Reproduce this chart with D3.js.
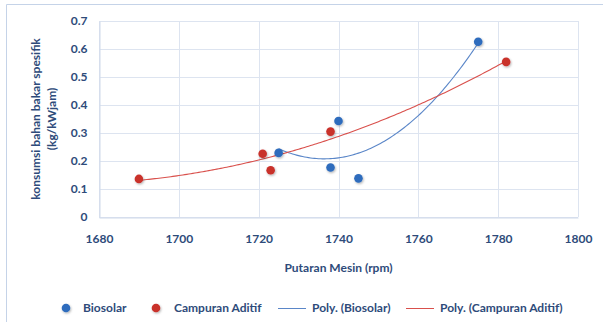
<!DOCTYPE html>
<html>
<head>
<meta charset="utf-8">
<script src="https://cdn.jsdelivr.net/npm/d3@7"></script>
<style>
  html, body { margin: 0; padding: 0; background: #fff; }
  svg { display: block; }
  text { font-family: Lato, "Open Sans", sans-serif; font-weight: bold; fill: #2e4b7a; }
</style>
</head>
<body>
<svg id="chart" width="603" height="322"></svg>
<script>
// Specific fuel consumption vs engine speed
const biosolarRpm = [1725, 1738, 1740, 1745, 1775];
const biosolarSfc = [0.229, 0.177, 0.343, 0.138, 0.626];
const aditifRpm = [1690, 1721, 1723, 1738, 1782];
const aditifSfc = [0.136, 0.226, 0.167, 0.305, 0.554];
const xTicks = [1680, 1700, 1720, 1740, 1760, 1780, 1800];
const yTicks = [0, 0.1, 0.2, 0.3, 0.4, 0.5, 0.6, 0.7];

const svg = d3.select("#chart");
const x = d3.scaleLinear().domain([1680, 1800]).range([99, 578]);
const y = d3.scaleLinear().domain([0, 0.7]).range([217, 21]);

// chart frame
svg.append("path").attr("d", "M6.5,322 V4.5 H603")
  .attr("fill", "none").attr("stroke", "#c5d3e8").attr("stroke-width", 1);

// gridlines
svg.append("g").selectAll("line").data(yTicks).join("line")
  .attr("x1", x(1680)).attr("x2", x(1800))
  .attr("y1", d => Math.round(y(d)) + 0.5).attr("y2", d => Math.round(y(d)) + 0.5)
  .attr("stroke", "#dde4f0");
svg.append("g").selectAll("line").data(xTicks).join("line")
  .attr("y1", y(0)).attr("y2", y(0.7))
  .attr("x1", d => Math.round(x(d)) + 0.5).attr("x2", d => Math.round(x(d)) + 0.5)
  .attr("stroke", "#dde4f0");

// axes
const xAxis = svg.append("g").attr("transform", `translate(0,${Math.round(y(0)) + 0.5})`)
  .call(d3.axisBottom(x).tickValues(xTicks).tickSize(0).tickPadding(17).tickFormat(d3.format("d")));
const yAxis = svg.append("g").attr("transform", `translate(${Math.round(x(1680)) + 0.5},0)`)
  .call(d3.axisLeft(y).tickValues(yTicks).tickSize(0).tickPadding(12).tickFormat(d => d === 0 ? "0" : d3.format(".1f")(d)));
[xAxis, yAxis].forEach(a => {
  a.select(".domain").attr("stroke", "#cfd9ea");
  a.selectAll("text").attr("font-size", 12).attr("fill", "#2e4b7a")
    .attr("font-family", "Lato, sans-serif").attr("font-weight", "bold");
});

// least-squares quadratic trend
function polyFit(xs, ys) {
  const n = xs.length, x0 = d3.mean(xs);
  const u = xs.map(v => v - x0);
  const S = k => d3.sum(u, v => Math.pow(v, k));
  const T = k => d3.sum(u, (v, i) => Math.pow(v, k) * ys[i]);
  const A = [[n, S(1), S(2)], [S(1), S(2), S(3)], [S(2), S(3), S(4)]];
  const b = [T(0), T(1), T(2)];
  for (let i = 0; i < 3; i++) {
    for (let j = i + 1; j < 3; j++) {
      const f = A[j][i] / A[i][i];
      for (let k = i; k < 3; k++) A[j][k] -= f * A[i][k];
      b[j] -= f * b[i];
    }
  }
  const c = [0, 0, 0];
  for (let i = 2; i >= 0; i--) {
    let s = b[i];
    for (let k = i + 1; k < 3; k++) s -= A[i][k] * c[k];
    c[i] = s / A[i][i];
  }
  return v => c[0] + c[1] * (v - x0) + c[2] * (v - x0) * (v - x0);
}

function trend(xs, ys, color) {
  const f = polyFit(xs, ys);
  const [lo, hi] = d3.extent(xs);
  const pts = d3.range(lo, hi + 0.001, 0.5).map(v => [v, f(v)]);
  svg.append("path").datum(pts)
    .attr("fill", "none").attr("stroke", color).attr("stroke-width", 1.1)
    .attr("d", d3.line().x(d => x(d[0])).y(d => y(d[1])));
}
trend(biosolarRpm, biosolarSfc, "#5a86c8");
trend(aditifRpm, aditifSfc, "#d9504c");

// marker shadow
const defs = svg.append("defs");
const flt = defs.append("filter").attr("id", "shadow").attr("x", "-50%").attr("y", "-50%").attr("width", "200%").attr("height", "200%");
flt.append("feDropShadow").attr("dx", 0.8).attr("dy", 1.2).attr("stdDeviation", 0.9)
  .attr("flood-color", "#000").attr("flood-opacity", 0.3);

function markers(xs, ys, color) {
  svg.append("g").selectAll("circle").data(xs).join("circle")
    .attr("cx", d => x(d)).attr("cy", (d, i) => y(ys[i])).attr("r", 4.3)
    .attr("fill", color).attr("filter", "url(#shadow)");
}
markers(biosolarRpm, biosolarSfc, "#2f6cbd");
markers(aditifRpm, aditifSfc, "#c9302c");

// axis titles
svg.append("text").attr("x", x(1740)).attr("y", 272).attr("text-anchor", "middle")
  .attr("font-size", 12).text("Putaran Mesin (rpm)");
const yt = svg.append("text").attr("transform", "translate(0,119) rotate(-90)")
  .attr("text-anchor", "middle").attr("font-size", 12);
yt.append("tspan").attr("x", 0).attr("y", 40).text("konsumsi bahan bakar spesifik");
yt.append("tspan").attr("x", 0).attr("y", 56).text("(kg/kWjam)");

// legend
const lg = svg.append("g").attr("transform", "translate(0,308)");
lg.append("circle").attr("cx", 66).attr("cy", 0).attr("r", 4.3).attr("fill", "#2f6cbd").attr("filter", "url(#shadow)");
lg.append("text").attr("x", 83).attr("y", 4).attr("font-size", 12).text("Biosolar");
lg.append("circle").attr("cx", 156).attr("cy", 0).attr("r", 4.3).attr("fill", "#c9302c").attr("filter", "url(#shadow)");
lg.append("text").attr("x", 174).attr("y", 4).attr("font-size", 12).text("Campuran Aditif");
lg.append("line").attr("x1", 278).attr("x2", 306).attr("y1", 0.5).attr("y2", 0.5).attr("stroke", "#5a86c8");
lg.append("text").attr("x", 312).attr("y", 4).attr("font-size", 12).text("Poly. (Biosolar)");
lg.append("line").attr("x1", 406).attr("x2", 434).attr("y1", 0.5).attr("y2", 0.5).attr("stroke", "#d9504c");
lg.append("text").attr("x", 440).attr("y", 4).attr("font-size", 12).text("Poly. (Campuran Aditif)");
</script>
</body>
</html>
